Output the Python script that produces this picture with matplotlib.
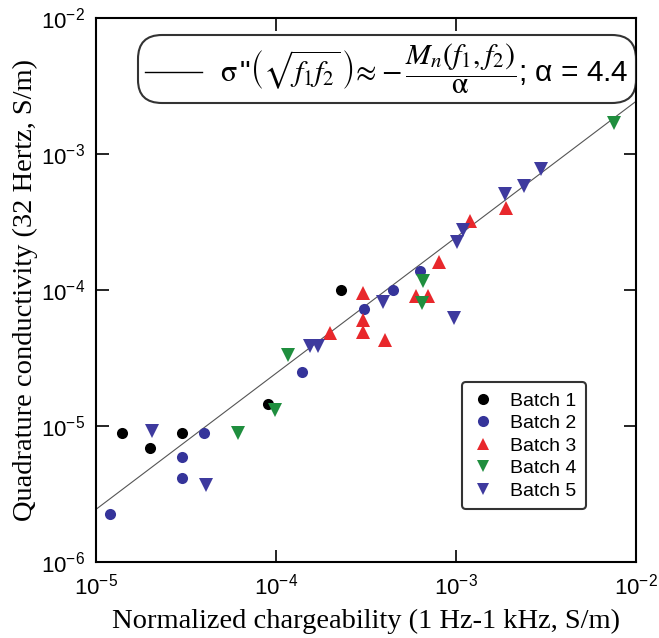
import matplotlib
matplotlib.use("Agg")
import matplotlib.pyplot as plt
from matplotlib.lines import Line2D
import numpy as np

plt.rcParams['font.family'] = ['Liberation Sans', 'DejaVu Sans']
plt.rcParams['mathtext.fontset'] = 'stix'

# Data (x: normalized chargeability, y: quadrature conductivity), S/m
b1_x = [1.39e-5, 2.0e-5, 3.0e-5, 9.0e-5, 2.3e-4]
b1_y = [8.9e-6, 6.9e-6, 8.9e-6, 1.45e-5, 1.0e-4]

b2_x = [1.2e-5, 3.0e-5, 3.0e-5, 4.0e-5, 1.39e-4, 3.08e-4, 4.47e-4, 6.3e-4]
b2_y = [2.25e-6, 5.9e-6, 4.15e-6, 8.9e-6, 2.5e-5, 7.2e-5, 1.0e-4, 1.38e-4]

b3_x = [2.0e-4, 3.04e-4, 3.04e-4, 3.04e-4, 4.03e-4, 6.0e-4, 7.0e-4, 8.0e-4, 1.2e-3, 1.9e-3]
b3_y = [4.8e-5, 9.5e-5, 6.0e-5, 4.9e-5, 4.3e-5, 9.0e-5, 9.0e-5, 1.6e-4, 3.2e-4, 4.0e-4]

b4_x = [6.15e-5, 9.9e-5, 1.17e-4, 6.56e-4, 6.5e-4, 7.55e-3]
b4_y = [8.9e-6, 1.31e-5, 3.3e-5, 1.16e-4, 8.0e-5, 1.69e-3]

b5_x = [2.05e-5, 4.08e-5, 1.55e-4, 1.71e-4, 3.93e-4, 9.75e-4, 1.01e-3, 1.09e-3, 1.87e-3, 2.39e-3, 2.97e-3]
b5_y = [9.2e-6, 3.7e-6, 3.9e-5, 3.9e-5, 8.2e-5, 6.2e-5, 2.25e-4, 2.76e-4, 5.1e-4, 5.8e-4, 7.8e-4]

alpha_label = 4.4
alpha_line = 4.1
line_x = [1e-5, 1e-2]

batch_labels = ['Batch 1', 'Batch 2', 'Batch 3', 'Batch 4', 'Batch 5']
colors = ['#000000', '#35349A', '#E8282C', '#1F8E3E', '#3E3A9E']
markers = ['o', 'o', '^', 'v', 'v']
sizes = [8, 8, 10, 10, 10]

fig = plt.figure(figsize=(6.59, 6.38), dpi=100)
ax = fig.add_axes([96/659, 1-562/638, 540/659, 544/638])
ax.set_xscale('log')
ax.set_yscale('log')
ax.set_xlim(1e-5, 1e-2)
ax.set_ylim(1e-6, 1e-2)

lx = np.array(line_x)
fit_line, = ax.plot(lx, lx / alpha_line, color='#555555', lw=0.8, zorder=1)

data = [(b1_x, b1_y), (b2_x, b2_y), (b3_x, b3_y), (b4_x, b4_y), (b5_x, b5_y)]
handles = []
for (xs, ys), lab, c, m, s in zip(data, batch_labels, colors, markers, sizes):
    h, = ax.plot(xs, ys, linestyle='none', marker=m, color=c, markersize=s,
                 markeredgewidth=0, label=lab, zorder=3)
    handles.append(h)

ax.tick_params(which='major', direction='in', length=9, width=1.2, top=True, right=True,
               labelsize=16, pad=8)
ax.minorticks_off()
for sp in ax.spines.values():
    sp.set_linewidth(1.5)

ax.set_xlabel('Normalized chargeability (1 Hz-1 kHz, S/m)', family='Liberation Serif', fontsize=20.5, labelpad=7)
ax.set_ylabel('Quadrature conductivity (32 Hertz, S/m)', family='Liberation Serif', fontsize=20.5, labelpad=2)

eq = (r'$\mathrm{\sigma}\,$"$\left(\sqrt{f_1 f_2}\,\right)\!\approx\!-\dfrac{M_n(f_1,f_2)}{\mathrm{\alpha}}$'
      + '; α = %.1f' % alpha_label)
leg1 = ax.legend([fit_line], [eq], loc='upper right', bbox_to_anchor=(0.987, 0.957),
                 fontsize=21.5, frameon=True, fancybox=True, edgecolor='black',
                 handlelength=1.9, handletextpad=0.6, borderpad=0.02, borderaxespad=0)
leg1.get_frame().set_linewidth(1.5)
leg1.get_frame().set_boxstyle('round', pad=0.22, rounding_size=0.8)
leg1.legend_handles[0].set_color('black')
leg1.legend_handles[0].set_linewidth(1.0)
ax.add_artist(leg1)

leg2 = ax.legend(handles=handles, loc='lower right', bbox_to_anchor=(0.908, 0.097),
                 fontsize=14, frameon=True, fancybox=True, edgecolor='black',
                 handlelength=1.2, handletextpad=0.8, labelspacing=0.25, borderpad=0.5,
                 borderaxespad=0)
leg2.get_frame().set_linewidth(1.5)
for h in leg2.legend_handles:
    h.set_markersize(8)

fig.savefig('out.png', dpi=100)
